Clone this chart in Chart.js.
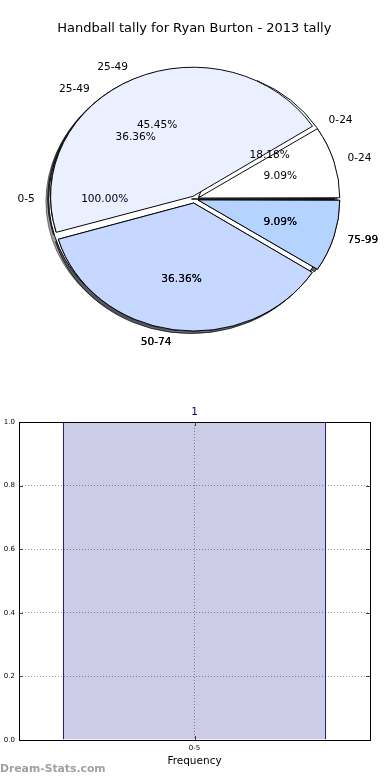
<!DOCTYPE html>
<html>
<head>
<meta charset="utf-8">
<script src="https://cdn.jsdelivr.net/npm/chart.js@4.4.0/dist/chart.umd.min.js"></script>
<style>
  html, body { margin: 0; padding: 0; background: #fff; }
  #wrap { position: relative; width: 390px; height: 780px; }
  canvas { position: absolute; left: 0; }
  .pie { top: 0; }
  #bars { top: 380px; }
</style>
</head>
<body>
<div id="wrap">
  <canvas id="pieA" class="pie" width="390" height="400"></canvas>
  <canvas id="pieB" class="pie" width="390" height="400"></canvas>
  <canvas id="pieC" class="pie" width="390" height="400"></canvas>
  <canvas id="bars" width="390" height="400"></canvas>
</div>
<script>
const titleText = 'Handball tally for Ryan Burton - 2013 tally';

// the source drew three pies on top of each other, bottom one first
const allLabels = ['0-5'];
const allCounts = [1];
const earlyLabels = ['0-24', '25-49', '50-74', '75-99'];
const earlyCounts = [2, 4, 4, 1];
const lateLabels = ['0-24', '25-49', '50-74', '75-99'];
const lateCounts = [1, 5, 4, 1];

// bar chart under the pies
const barCategories = ['0-5'];
const barFrequency = [1];
const yTicks = [0, 0.2, 0.4, 0.6, 0.8, 1.0];

const sliceColors = {
  '0-5': '#ffffff',
  '0-24': '#ffffff',
  '25-49': '#eaf0ff',
  '50-74': '#c6d8ff',
  '75-99': '#b4d4ff'
};

Chart.defaults.font.family = '"DejaVu Sans", sans-serif';

const SY = 0.907;      // axes were not square, so the pie comes out as an ellipse
const EXPLODE = 5.6;   // px every slice is pushed out
const pies = [];

function squash(ctx, arc) {
  ctx.translate(arc.x, arc.y);
  ctx.scale(1, SY);
  ctx.translate(-arc.x, -arc.y);
}

// same shift that ArcElement.draw applies for an offset
function shifted(arc) {
  const p = arc.getProps(['x', 'y', 'startAngle', 'endAngle', 'outerRadius']);
  const circ = p.endAngle - p.startAngle;
  const t = (arc.options.offset || 0) / 4 * (2 - Math.sin(Math.min(Math.PI, circ)));
  const mid = (p.startAngle + p.endAngle) / 2;
  return { x: p.x + Math.cos(mid) * t, y: p.y, dy: Math.sin(mid) * t, mid: mid, r: p.outerRadius };
}

function drawPieTexts(ctx, chart) {
  const ds = chart.data.datasets[0];
  const total = ds.data.reduce((s, v) => s + v, 0);
  chart.getDatasetMeta(0).data.forEach((a, i) => {
    const s = shifted(a);
    const c = Math.cos(s.mid), sn = Math.sin(s.mid);
    ctx.textAlign = c > 0 ? 'left' : 'right';
    ctx.fillText(chart.data.labels[i], s.x + 1.1 * s.r * c, s.y + (s.dy + 1.1 * s.r * sn) * SY);
    ctx.textAlign = 'center';
    const pct = (ds.data[i] / total * 100).toFixed(2) + '%';
    ctx.fillText(pct, s.x + 0.6 * s.r * c, s.y + (s.dy + 0.6 * s.r * sn) * SY);
  });
}

const piePlugin = {
  id: 'piePlugin',
  beforeDatasetsDraw(chart, args, opts) {
    const ctx = chart.ctx;
    if (opts.shadows) {
      pies.forEach(c => c.getDatasetMeta(0).data.forEach(a => {
        ctx.save();
        ctx.translate(-2.8, 2.5);
        squash(ctx, a);
        ctx.filter = 'brightness(0.3)';
        ctx.globalAlpha = 0.5;
        a.draw(ctx);
        ctx.restore();
      }));
    }
    ctx.save();
    squash(ctx, chart.getDatasetMeta(0).data[0]);
  },
  afterDatasetsDraw(chart) {
    chart.ctx.restore();
  },
  afterDraw(chart, args, opts) {
    // texts sit above every wedge, so the top pie writes them all
    if (!opts.texts) return;
    const ctx = chart.ctx;
    ctx.save();
    ctx.font = '10.6px "DejaVu Sans"';
    ctx.fillStyle = '#000';
    ctx.textBaseline = 'middle';
    pies.forEach(c => drawPieTexts(ctx, c));
    ctx.restore();
  }
};

function makePie(id, labels, counts, withTitle, withTexts) {
  // matplotlib runs counter-clockwise from 3 o'clock, Chart.js clockwise: feed slices reversed
  const labs = labels.slice().reverse();
  const vals = counts.slice().reverse();
  const chart = new Chart(document.getElementById(id), {
    type: 'pie',
    data: {
      labels: labs,
      datasets: [{
        data: vals,
        backgroundColor: labs.map(l => sliceColors[l]),
        borderColor: '#000',
        borderWidth: 1,
        offset: ctx => {
          const d = ctx.dataset.data;
          const tot = d.reduce((s, v) => s + v, 0);
          const circ = d[ctx.dataIndex] / tot * 2 * Math.PI;
          return 4 * EXPLODE / (2 - Math.sin(Math.min(Math.PI, circ)));
        }
      }]
    },
    options: {
      responsive: false,
      animation: false,
      events: [],
      radius: 140,
      rotation: 90,
      layout: { padding: withTitle ? { left: 0, right: 1.4, top: 0, bottom: 38.6 } : { left: 0, right: 1.4, top: 0, bottom: 2 } },
      plugins: {
        legend: { display: false },
        tooltip: { enabled: false },
        title: {
          display: withTitle,
          text: titleText,
          color: '#000',
          font: { size: 13, weight: 'normal' },
          padding: { top: 21, bottom: 0 }
        },
        piePlugin: { shadows: withTitle, texts: withTexts }
      }
    },
    plugins: [piePlugin]
  });
  pies.push(chart);
  return chart;
}

makePie('pieA', allLabels, allCounts, true, false);
makePie('pieB', earlyLabels, earlyCounts, false, false);
makePie('pieC', lateLabels, lateCounts, false, true);
// redraw once all three exist: shadows go under the lowest pie, texts over the top one
pies.forEach(c => c.draw());

const barFrame = {
  id: 'barFrame',
  afterDraw(chart) {
    const ctx = chart.ctx;
    const a = chart.chartArea;
    const x = chart.scales.x, y = chart.scales.y;
    ctx.save();
    ctx.strokeStyle = '#444';
    ctx.lineWidth = 1;
    ctx.beginPath();
    y.ticks.forEach(t => {
      const py = Math.round(y.getPixelForValue(t.value)) + 0.5;
      ctx.moveTo(a.left, py); ctx.lineTo(a.left + 4, py);
      ctx.moveTo(a.right, py); ctx.lineTo(a.right - 4, py);
    });
    barCategories.forEach((c, i) => {
      const px = Math.round(x.getPixelForValue(i)) + 0.5;
      ctx.moveTo(px, a.bottom); ctx.lineTo(px, a.bottom - 4);
      ctx.moveTo(px, a.top); ctx.lineTo(px, a.top + 4);
    });
    ctx.stroke();
    ctx.strokeStyle = '#000';
    ctx.strokeRect(Math.round(a.left) + 0.5, Math.round(a.top) + 0.5, Math.round(a.right - a.left), Math.round(a.bottom - a.top));

    ctx.fillStyle = '#000080';
    ctx.font = '10.5px "DejaVu Sans"';
    ctx.textAlign = 'center';
    ctx.textBaseline = 'middle';
    chart.getDatasetMeta(0).data.forEach((bar, i) => {
      ctx.fillText(String(barFrequency[i]), bar.x, bar.y - 10);
    });

    ctx.fillStyle = '#a0a0a0';
    ctx.font = 'bold 10.8px "DejaVu Sans"';
    ctx.textAlign = 'left';
    ctx.fillText('Dream-Stats.com', 0, 389);
    ctx.restore();
  }
};

new Chart(document.getElementById('bars'), {
  type: 'bar',
  data: {
    labels: barCategories,
    datasets: [{
      data: barFrequency,
      backgroundColor: 'rgba(0, 0, 128, 0.2)',
      borderColor: '#000080',
      borderWidth: 1,
      borderSkipped: 'start',
      barPercentage: 0.75,
      categoryPercentage: 1
    }]
  },
  options: {
    responsive: false,
    animation: false,
    events: [],
    layout: { padding: { left: 0, right: 20, top: 42, bottom: 0 } },
    plugins: { legend: { display: false }, tooltip: { enabled: false } },
    scales: {
      x: {
        grid: { color: 'rgba(0,0,0,0.4)', lineWidth: 1, offset: false, drawTicks: false },
        border: { display: false, dash: [1, 2] },
        ticks: { color: '#000', font: { size: 7 }, padding: 4 },
        title: {
          display: true,
          text: 'Frequency',
          color: '#000',
          font: { size: 10.5 },
          padding: { top: 0, bottom: 12.7 }
        },
        afterFit: s => { s.height = 40; }
      },
      y: {
        min: 0,
        max: 1,
        afterBuildTicks: s => { s.ticks = yTicks.map(v => ({ value: v })); },
        grid: { color: 'rgba(0,0,0,0.4)', lineWidth: 1, drawTicks: false },
        border: { display: false, dash: [1, 2] },
        ticks: { color: '#000', font: { size: 7 }, padding: 4, callback: v => Number(v).toFixed(1) },
        afterFit: s => { s.width = 19; }
      }
    }
  },
  plugins: [barFrame]
});
</script>
</body>
</html>
